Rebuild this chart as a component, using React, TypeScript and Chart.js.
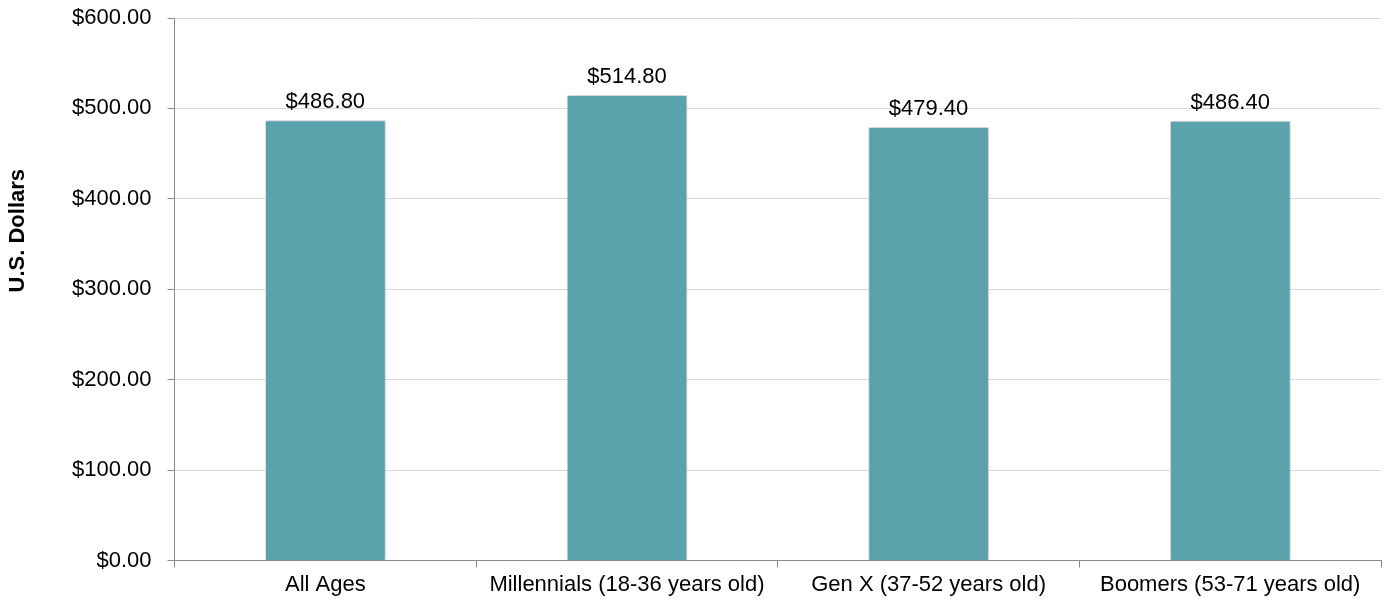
import React, { useEffect, useRef } from "react";
import { Chart, registerables } from "chart.js";

Chart.register(...registerables);

const categories = [
  "All Ages",
  "Millennials (18-36 years old)",
  "Gen X (37-52 years old)",
  "Boomers (53-71 years old)",
];
const values = [486.8, 514.8, 479.4, 486.4];
const yTitle = "U.S. Dollars";

const FONT = "'Liberation Sans', Arial, sans-serif";
const fmt = (v: number) => "$" + v.toFixed(2);

const shadowPlugin = {
  id: "barShadow",
  beforeDatasetDraw(chart: any) {
    const ctx = chart.ctx;
    ctx.save();
    ctx.shadowColor = "rgba(0,0,0,0.28)";
    ctx.shadowBlur = 4;
    ctx.shadowOffsetX = 1;
    ctx.shadowOffsetY = 0;
  },
  afterDatasetDraw(chart: any) {
    chart.ctx.restore();
  },
};

const labelPlugin = {
  id: "barLabels",
  afterDatasetsDraw(chart: any) {
    const ctx = chart.ctx;
    const meta = chart.getDatasetMeta(0);
    ctx.save();
    ctx.font = "22px " + FONT;
    ctx.fillStyle = "#000";
    ctx.textAlign = "center";
    ctx.textBaseline = "alphabetic";
    meta.data.forEach((el: any, i: number) => {
      ctx.fillText(fmt(values[i]), el.x, el.y - 12);
    });
    ctx.restore();
  },
};

const yTitlePlugin = {
  id: "yTitle",
  afterDraw(chart: any) {
    const ctx = chart.ctx;
    const area = chart.chartArea;
    ctx.save();
    ctx.translate(18, area.top + (area.bottom - area.top) * 0.392);
    ctx.rotate(-Math.PI / 2);
    ctx.font = "bold 22px " + FONT;
    ctx.fillStyle = "#000";
    ctx.textAlign = "center";
    ctx.textBaseline = "middle";
    ctx.fillText(yTitle, 0, 0);
    ctx.restore();
  },
};

export default function App() {
  const ref = useRef<HTMLCanvasElement>(null);
  useEffect(() => {
    document.body.style.margin = "0";
    const chart = new Chart(ref.current!, {
      type: "bar",
      data: {
        labels: categories,
        datasets: [
          {
            data: values,
            backgroundColor: "#5BA2AC",
            borderColor: "#EAF3F4",
            borderWidth: 1,
            barPercentage: 0.4,
            categoryPercentage: 1,
          },
        ],
      },
      options: {
        animation: false,
        responsive: false,
        maintainAspectRatio: false,
        layout: { padding: { top: 0, right: 9, left: 56, bottom: 3 } },
        plugins: {
          legend: { display: false },
          tooltip: { enabled: false },
        },
        scales: {
          x: {
            offset: true,
            grid: {
              offset: true,
              drawOnChartArea: false,
              tickLength: 7,
              tickColor: "#898989",
            },
            border: { color: "#898989", width: 1 },
            ticks: {
              color: "#000",
              font: { family: FONT, size: 22 },
              padding: 4,
              maxRotation: 0,
            },
          },
          y: {
            min: 0,
            max: 600,
            afterFit: (s: any) => {
              s.paddingTop = 18;
              s.paddingBottom = 0;
            },
            ticks: {
              stepSize: 100,
              color: "#000",
              font: { family: FONT, size: 22 },
              padding: 16,
              callback: (v: any) => fmt(Number(v)),
            },
            grid: {
              color: "#D9D9D9",
              tickColor: "#898989",
              tickLength: 7,
            },
            border: { color: "#898989", width: 1 },
          },
        },
      },
      plugins: [shadowPlugin, labelPlugin, yTitlePlugin],
    });
    return () => chart.destroy();
  }, []);
  return (
    <div style={{ width: 1390, height: 605 }}>
      <canvas ref={ref} width={1390} height={605} style={{ display: "block" }} />
    </div>
  );
}
